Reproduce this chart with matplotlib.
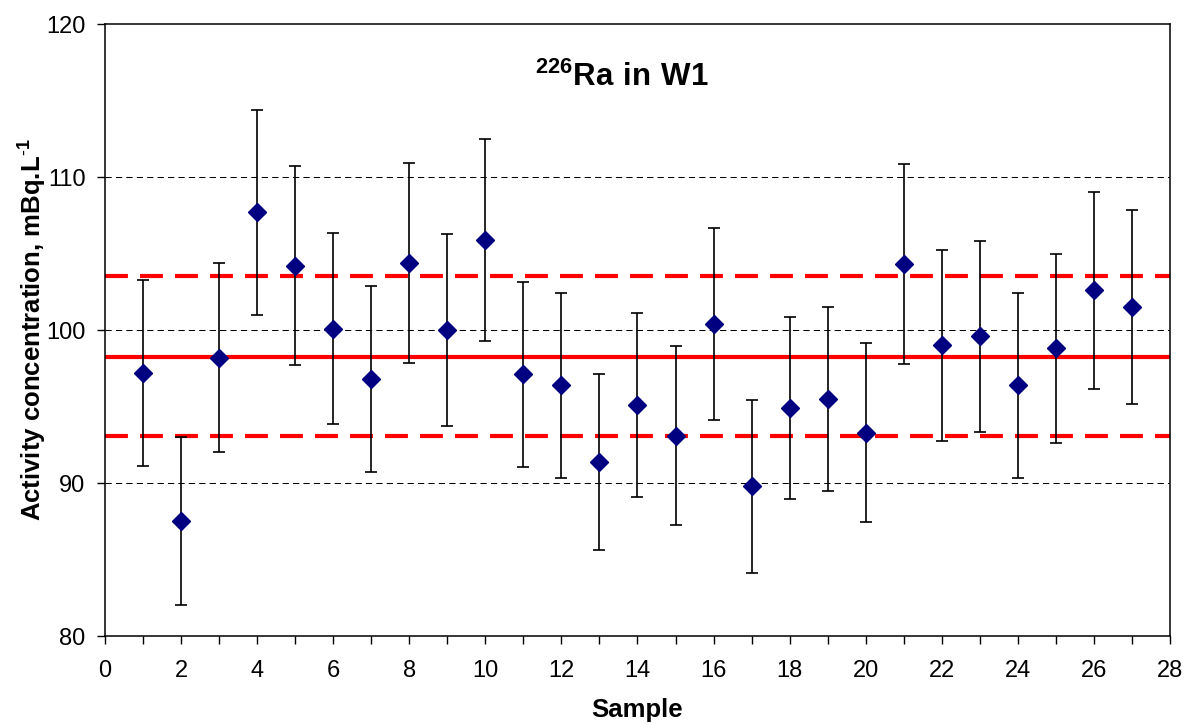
import numpy as np
import matplotlib.pyplot as plt
from matplotlib.ticker import MultipleLocator

plt.rcParams['font.family'] = ['Liberation Sans', 'DejaVu Sans']
plt.rcParams['mathtext.fontset'] = 'custom'
plt.rcParams['mathtext.rm'] = 'Liberation Sans'
plt.rcParams['mathtext.bf'] = 'Liberation Sans:bold'

# 226Ra in W1 - activity per sample with uncertainty
sample = np.arange(1, 28)
activity = [97.2, 87.5, 98.2, 107.7, 104.2, 100.1, 96.8, 104.4, 100.0, 105.9,
            97.1, 96.4, 91.4, 95.1, 93.1, 100.4, 89.8, 94.9, 95.5, 93.3,
            104.3, 99.0, 99.6, 96.4, 98.8, 102.6, 101.5]
uncert = [6.1, 5.5, 6.15, 6.7, 6.5, 6.25, 6.05, 6.55, 6.25, 6.6,
          6.05, 6.05, 5.75, 6.0, 5.85, 6.3, 5.65, 5.95, 6.0, 5.85,
          6.55, 6.25, 6.25, 6.05, 6.2, 6.45, 6.35]

ref_value = 98.25
ref_low = 93.05
ref_high = 103.5

fig = plt.figure(figsize=(11.86, 7.24), dpi=100)
ax = fig.add_axes([0.0885, 0.1215, 0.898, 0.8453])

for v in [90, 100, 110]:
    ax.axhline(v, color='black', lw=0.75, dashes=(6, 4), zorder=1)

ax.axhline(ref_value, color='red', lw=3, zorder=2)
ax.axhline(ref_low, color='red', lw=3, dashes=(5.5, 2.9), zorder=2)
ax.axhline(ref_high, color='red', lw=3, dashes=(5.5, 2.9), zorder=2)

ax.errorbar(sample, activity, yerr=uncert, fmt='D', color='#000080',
            markersize=9, ecolor='black', elinewidth=1.2, capsize=4,
            capthick=1.2, zorder=3)

ax.set_xlim(0, 28)
ax.set_ylim(80, 120)
ax.xaxis.set_major_locator(MultipleLocator(2))
ax.xaxis.set_minor_locator(MultipleLocator(1))
ax.yaxis.set_major_locator(MultipleLocator(10))
ax.tick_params(axis='both', which='both', direction='out', length=6,
               width=1, labelsize=17)
ax.tick_params(axis='x', pad=11)
ax.tick_params(axis='y', pad=8)
for s in ax.spines.values():
    s.set_linewidth(1.1)

ax.set_xlabel('Sample', fontsize=18.5, fontweight='bold', labelpad=12)
ax.set_ylabel(r'Activity concentration, mBq.L$\mathbf{^{\text{-}1}}$',
              fontsize=18.5, fontweight='bold', labelpad=-2)

ax.text(0.485, 0.913, r'$\mathbf{^{226}Ra\ in\ W1}$', transform=ax.transAxes,
        ha='center', va='center', fontsize=22.5)

plt.savefig('out.png', dpi=100)
